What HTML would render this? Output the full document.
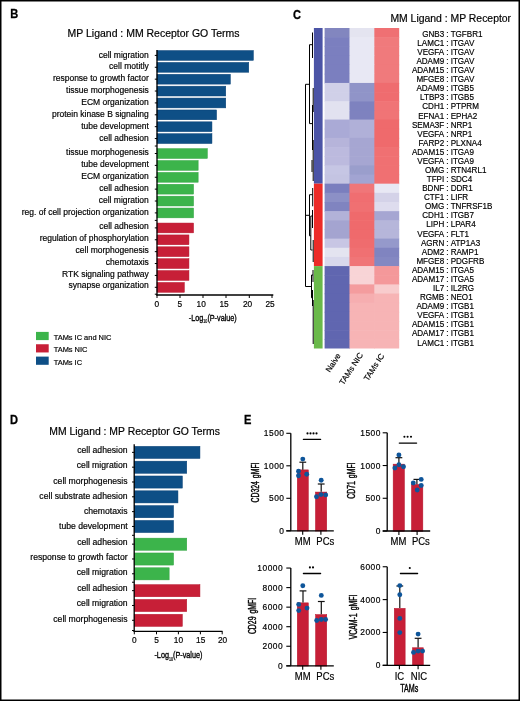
<!DOCTYPE html>
<html><head><meta charset="utf-8"><style>
html,body{margin:0;padding:0;background:#fff;width:520px;height:701px;overflow:hidden}
svg{display:block;will-change:transform}
text{fill:#000;stroke:#000;stroke-width:0.18px}
</style></head><body>
<svg width="520" height="701" viewBox="0 0 520 701" font-family='"Liberation Sans", sans-serif'><rect x="0" y="0" width="520" height="701" fill="#000"/><rect x="1.5" y="1.5" width="517.0" height="698.0" fill="#fff"/><g transform="translate(10.3,18.0) scale(0.88,1)"><text x="0" y="0" font-size="12.6" font-weight="bold" style="stroke-width:0.3px">B</text></g><text x="67.6" y="37.1" font-size="10.48">MP Ligand : MM Receptor GO Terms</text><rect x="157.00" y="50.55" width="96.35" height="9.80" fill="#0e4f86" stroke="#053f74" stroke-width="0.5"/><text x="148.8" y="57.60" font-size="8.5" text-anchor="end">cell migration</text><line x1="154.8" y1="55.40" x2="157" y2="55.40" stroke="#000" stroke-width="1"/><rect x="157.00" y="62.43" width="91.75" height="9.80" fill="#0e4f86" stroke="#053f74" stroke-width="0.5"/><text x="148.8" y="69.48" font-size="8.5" text-anchor="end">cell motitly</text><line x1="154.8" y1="67.28" x2="157" y2="67.28" stroke="#000" stroke-width="1"/><rect x="157.00" y="74.31" width="73.35" height="9.80" fill="#0e4f86" stroke="#053f74" stroke-width="0.5"/><text x="148.8" y="81.36" font-size="8.5" text-anchor="end">response to growth factor</text><line x1="154.8" y1="79.16" x2="157" y2="79.16" stroke="#000" stroke-width="1"/><rect x="157.00" y="86.19" width="68.75" height="9.80" fill="#0e4f86" stroke="#053f74" stroke-width="0.5"/><text x="148.8" y="93.24" font-size="8.5" text-anchor="end">tissue morphogenesis</text><line x1="154.8" y1="91.04" x2="157" y2="91.04" stroke="#000" stroke-width="1"/><rect x="157.00" y="98.07" width="68.75" height="9.80" fill="#0e4f86" stroke="#053f74" stroke-width="0.5"/><text x="148.8" y="105.12" font-size="8.5" text-anchor="end">ECM organization</text><line x1="154.8" y1="102.92" x2="157" y2="102.92" stroke="#000" stroke-width="1"/><rect x="157.00" y="109.95" width="59.55" height="9.80" fill="#0e4f86" stroke="#053f74" stroke-width="0.5"/><text x="148.8" y="117.00" font-size="8.5" text-anchor="end">protein kinase B signaling</text><line x1="154.8" y1="114.80" x2="157" y2="114.80" stroke="#000" stroke-width="1"/><rect x="157.00" y="121.83" width="54.95" height="9.80" fill="#0e4f86" stroke="#053f74" stroke-width="0.5"/><text x="148.8" y="128.88" font-size="8.5" text-anchor="end">tube development</text><line x1="154.8" y1="126.68" x2="157" y2="126.68" stroke="#000" stroke-width="1"/><rect x="157.00" y="133.71" width="54.95" height="9.80" fill="#0e4f86" stroke="#053f74" stroke-width="0.5"/><text x="148.8" y="140.76" font-size="8.5" text-anchor="end">cell adhesion</text><line x1="154.8" y1="138.56" x2="157" y2="138.56" stroke="#000" stroke-width="1"/><rect x="157.00" y="148.65" width="50.35" height="9.80" fill="#3cb44b" stroke="#2fa33f" stroke-width="0.5"/><text x="148.8" y="155.10" font-size="8.5" text-anchor="end">tissue morphogenesis</text><line x1="154.8" y1="153.50" x2="157" y2="153.50" stroke="#000" stroke-width="1"/><rect x="157.00" y="160.53" width="41.15" height="9.80" fill="#3cb44b" stroke="#2fa33f" stroke-width="0.5"/><text x="148.8" y="166.98" font-size="8.5" text-anchor="end">tube development</text><line x1="154.8" y1="165.38" x2="157" y2="165.38" stroke="#000" stroke-width="1"/><rect x="157.00" y="172.41" width="41.15" height="9.80" fill="#3cb44b" stroke="#2fa33f" stroke-width="0.5"/><text x="148.8" y="178.86" font-size="8.5" text-anchor="end">ECM organization</text><line x1="154.8" y1="177.26" x2="157" y2="177.26" stroke="#000" stroke-width="1"/><rect x="157.00" y="184.29" width="36.55" height="9.80" fill="#3cb44b" stroke="#2fa33f" stroke-width="0.5"/><text x="148.8" y="190.74" font-size="8.5" text-anchor="end">cell adhesion</text><line x1="154.8" y1="189.14" x2="157" y2="189.14" stroke="#000" stroke-width="1"/><rect x="157.00" y="196.17" width="36.55" height="9.80" fill="#3cb44b" stroke="#2fa33f" stroke-width="0.5"/><text x="148.8" y="202.62" font-size="8.5" text-anchor="end">cell migration</text><line x1="154.8" y1="201.02" x2="157" y2="201.02" stroke="#000" stroke-width="1"/><rect x="157.00" y="208.05" width="36.55" height="9.80" fill="#3cb44b" stroke="#2fa33f" stroke-width="0.5"/><text x="148.8" y="214.50" font-size="8.5" text-anchor="end">reg. of cell projection organization</text><line x1="154.8" y1="212.90" x2="157" y2="212.90" stroke="#000" stroke-width="1"/><rect x="157.00" y="223.05" width="36.55" height="9.80" fill="#c71f37" stroke="#b5142c" stroke-width="0.5"/><text x="148.8" y="229.00" font-size="8.5" text-anchor="end">cell adhesion</text><line x1="154.8" y1="227.90" x2="157" y2="227.90" stroke="#000" stroke-width="1"/><rect x="157.00" y="234.93" width="31.95" height="9.80" fill="#c71f37" stroke="#b5142c" stroke-width="0.5"/><text x="148.8" y="240.88" font-size="8.5" text-anchor="end">regulation of phosphorylation</text><line x1="154.8" y1="239.78" x2="157" y2="239.78" stroke="#000" stroke-width="1"/><rect x="157.00" y="246.81" width="31.95" height="9.80" fill="#c71f37" stroke="#b5142c" stroke-width="0.5"/><text x="148.8" y="252.76" font-size="8.5" text-anchor="end">cell morphogenesis</text><line x1="154.8" y1="251.66" x2="157" y2="251.66" stroke="#000" stroke-width="1"/><rect x="157.00" y="258.69" width="31.95" height="9.80" fill="#c71f37" stroke="#b5142c" stroke-width="0.5"/><text x="148.8" y="264.64" font-size="8.5" text-anchor="end">chemotaxis</text><line x1="154.8" y1="263.54" x2="157" y2="263.54" stroke="#000" stroke-width="1"/><rect x="157.00" y="270.57" width="31.95" height="9.80" fill="#c71f37" stroke="#b5142c" stroke-width="0.5"/><text x="148.8" y="276.52" font-size="8.5" text-anchor="end">RTK signaling pathway</text><line x1="154.8" y1="275.42" x2="157" y2="275.42" stroke="#000" stroke-width="1"/><rect x="157.00" y="282.45" width="27.35" height="9.80" fill="#c71f37" stroke="#b5142c" stroke-width="0.5"/><text x="148.8" y="288.40" font-size="8.5" text-anchor="end">synapse organization</text><line x1="154.8" y1="287.30" x2="157" y2="287.30" stroke="#000" stroke-width="1"/><line x1="154.8" y1="146.03" x2="157" y2="146.03" stroke="#000" stroke-width="1"/><line x1="154.8" y1="220.40" x2="157" y2="220.40" stroke="#000" stroke-width="1"/><line x1="154.8" y1="294.20" x2="157" y2="294.20" stroke="#000" stroke-width="1"/><line x1="157" y1="50" x2="157" y2="295.6" stroke="#000" stroke-width="1.3"/><line x1="156.4" y1="295" x2="273.3" y2="295" stroke="#000" stroke-width="1.3"/><line x1="157.00" y1="295" x2="157.00" y2="298" stroke="#000" stroke-width="1"/><text x="156.70" y="306.9" font-size="8.3" text-anchor="middle">0</text><line x1="180.00" y1="295" x2="180.00" y2="298" stroke="#000" stroke-width="1"/><text x="179.80" y="306.9" font-size="8.3" text-anchor="middle">5</text><line x1="203.00" y1="295" x2="203.00" y2="298" stroke="#000" stroke-width="1"/><text x="201.20" y="306.9" font-size="8.3" text-anchor="middle">10</text><line x1="226.00" y1="295" x2="226.00" y2="298" stroke="#000" stroke-width="1"/><text x="224.00" y="306.9" font-size="8.3" text-anchor="middle">15</text><line x1="249.30" y1="295" x2="249.30" y2="298" stroke="#000" stroke-width="1"/><text x="247.50" y="306.9" font-size="8.3" text-anchor="middle">20</text><line x1="272.00" y1="295" x2="272.00" y2="298" stroke="#000" stroke-width="1"/><text x="270.00" y="306.9" font-size="8.3" text-anchor="middle">25</text><g transform="translate(212.8,321.0) scale(0.755,1)"><text x="0" y="0" font-size="9.6" text-anchor="middle" style="stroke-width:0.35px">-Log<tspan font-size="4.8" dy="2.4" style="stroke-width:0.2px">10</tspan><tspan dy="-2.4">(P-value)</tspan></text></g><rect x="36.0" y="331.90" width="12.7" height="8.2" fill="#3cb44b"/><text x="53.7" y="339.80" font-size="7.45">TAMs IC and NIC</text><rect x="36.0" y="344.25" width="12.7" height="8.2" fill="#c71f37"/><text x="53.7" y="352.15" font-size="7.45">TAMs NIC</text><rect x="36.0" y="356.60" width="12.7" height="8.2" fill="#0e4f86"/><text x="53.7" y="364.50" font-size="7.45">TAMs IC</text><g transform="translate(10.0,423.8) scale(0.88,1)"><text x="0" y="0" font-size="12.6" font-weight="bold" style="stroke-width:0.3px">D</text></g><text x="49.3" y="434.6" font-size="10.4">MM Ligand : MP Receptor GO Terms</text><rect x="134.20" y="446.35" width="65.75" height="12.10" fill="#0e4f86" stroke="#053f74" stroke-width="0.5"/><text x="127.6" y="453.05" font-size="8.65" text-anchor="end">cell adhesion</text><line x1="132.0" y1="452.35" x2="134.2" y2="452.35" stroke="#000" stroke-width="1"/><rect x="134.20" y="461.17" width="52.55" height="12.10" fill="#0e4f86" stroke="#053f74" stroke-width="0.5"/><text x="127.6" y="468.33" font-size="8.65" text-anchor="end">cell migration</text><line x1="132.0" y1="467.17" x2="134.2" y2="467.17" stroke="#000" stroke-width="1"/><rect x="134.20" y="475.99" width="48.15" height="12.10" fill="#0e4f86" stroke="#053f74" stroke-width="0.5"/><text x="127.6" y="483.61" font-size="8.65" text-anchor="end">cell morphogenesis</text><line x1="132.0" y1="481.99" x2="134.2" y2="481.99" stroke="#000" stroke-width="1"/><rect x="134.20" y="490.81" width="43.75" height="12.10" fill="#0e4f86" stroke="#053f74" stroke-width="0.5"/><text x="127.6" y="498.89" font-size="8.65" text-anchor="end">cell substrate adhesion</text><line x1="132.0" y1="496.81" x2="134.2" y2="496.81" stroke="#000" stroke-width="1"/><rect x="134.20" y="505.63" width="39.35" height="12.10" fill="#0e4f86" stroke="#053f74" stroke-width="0.5"/><text x="127.6" y="514.17" font-size="8.65" text-anchor="end">chemotaxis</text><line x1="132.0" y1="511.63" x2="134.2" y2="511.63" stroke="#000" stroke-width="1"/><rect x="134.20" y="520.45" width="39.35" height="12.10" fill="#0e4f86" stroke="#053f74" stroke-width="0.5"/><text x="127.6" y="529.45" font-size="8.65" text-anchor="end">tube development</text><line x1="132.0" y1="526.45" x2="134.2" y2="526.45" stroke="#000" stroke-width="1"/><rect x="134.20" y="538.15" width="52.55" height="12.10" fill="#3cb44b" stroke="#2fa33f" stroke-width="0.5"/><text x="127.6" y="545.00" font-size="8.65" text-anchor="end">cell adhesion</text><line x1="132.0" y1="544.15" x2="134.2" y2="544.15" stroke="#000" stroke-width="1"/><rect x="134.20" y="552.97" width="39.35" height="12.10" fill="#3cb44b" stroke="#2fa33f" stroke-width="0.5"/><text x="127.6" y="560.24" font-size="8.65" text-anchor="end">response to growth factor</text><line x1="132.0" y1="558.97" x2="134.2" y2="558.97" stroke="#000" stroke-width="1"/><rect x="134.20" y="567.79" width="34.95" height="12.10" fill="#3cb44b" stroke="#2fa33f" stroke-width="0.5"/><text x="127.6" y="575.48" font-size="8.65" text-anchor="end">cell migration</text><line x1="132.0" y1="573.79" x2="134.2" y2="573.79" stroke="#000" stroke-width="1"/><rect x="134.20" y="584.65" width="65.75" height="12.10" fill="#c71f37" stroke="#b5142c" stroke-width="0.5"/><text x="127.6" y="591.20" font-size="8.65" text-anchor="end">cell adhesion</text><line x1="132.0" y1="590.65" x2="134.2" y2="590.65" stroke="#000" stroke-width="1"/><rect x="134.20" y="599.47" width="52.55" height="12.10" fill="#c71f37" stroke="#b5142c" stroke-width="0.5"/><text x="127.6" y="606.39" font-size="8.65" text-anchor="end">cell migration</text><line x1="132.0" y1="605.47" x2="134.2" y2="605.47" stroke="#000" stroke-width="1"/><rect x="134.20" y="614.29" width="48.15" height="12.10" fill="#c71f37" stroke="#b5142c" stroke-width="0.5"/><text x="127.6" y="621.58" font-size="8.65" text-anchor="end">cell morphogenesis</text><line x1="132.0" y1="620.29" x2="134.2" y2="620.29" stroke="#000" stroke-width="1"/><line x1="132.0" y1="535.30" x2="134.2" y2="535.30" stroke="#000" stroke-width="1"/><line x1="132.0" y1="582.22" x2="134.2" y2="582.22" stroke="#000" stroke-width="1"/><line x1="132.0" y1="630.50" x2="134.2" y2="630.50" stroke="#000" stroke-width="1"/><line x1="134.2" y1="444.3" x2="134.2" y2="631.9" stroke="#000" stroke-width="1.3"/><line x1="133.6" y1="631.3" x2="222.5" y2="631.3" stroke="#000" stroke-width="1.3"/><line x1="134.30" y1="631.3" x2="134.30" y2="634.3" stroke="#000" stroke-width="1"/><text x="134.30" y="643.0" font-size="8.3" text-anchor="middle">0</text><line x1="156.50" y1="631.3" x2="156.50" y2="634.3" stroke="#000" stroke-width="1"/><text x="156.50" y="643.0" font-size="8.3" text-anchor="middle">5</text><line x1="178.40" y1="631.3" x2="178.40" y2="634.3" stroke="#000" stroke-width="1"/><text x="178.40" y="643.0" font-size="8.3" text-anchor="middle">10</text><line x1="200.40" y1="631.3" x2="200.40" y2="634.3" stroke="#000" stroke-width="1"/><text x="200.70" y="643.0" font-size="8.3" text-anchor="middle">15</text><line x1="222.20" y1="631.3" x2="222.20" y2="634.3" stroke="#000" stroke-width="1"/><text x="222.60" y="643.0" font-size="8.3" text-anchor="middle">20</text><g transform="translate(178.4,658.3) scale(0.755,1)"><text x="0" y="0" font-size="9.6" text-anchor="middle" style="stroke-width:0.35px">-Log<tspan font-size="4.8" dy="2.4" style="stroke-width:0.2px">10</tspan><tspan dy="-2.4">(P-value)</tspan></text></g><g transform="translate(292.9,18.5) scale(0.88,1)"><text x="0" y="0" font-size="12.6" font-weight="bold" style="stroke-width:0.3px">C</text></g><text x="390.4" y="22.2" font-size="10.42">MM Ligand : MP Receptor</text><rect x="324.60" y="28.00" width="25.47" height="9.76" fill="#8286bf"/><rect x="349.47" y="28.00" width="25.47" height="9.76" fill="#e4e4f0"/><rect x="374.33" y="28.00" width="24.87" height="9.76" fill="#ef7073"/><rect x="324.60" y="37.16" width="25.47" height="9.76" fill="#7b7fbf"/><rect x="349.47" y="37.16" width="25.47" height="9.76" fill="#e8e8f4"/><rect x="374.33" y="37.16" width="24.87" height="9.76" fill="#f07a7c"/><rect x="324.60" y="46.31" width="25.47" height="9.76" fill="#7b7fbf"/><rect x="349.47" y="46.31" width="25.47" height="9.76" fill="#e8e8f4"/><rect x="374.33" y="46.31" width="24.87" height="9.76" fill="#f07a7c"/><rect x="324.60" y="55.47" width="25.47" height="9.76" fill="#7b7fbf"/><rect x="349.47" y="55.47" width="25.47" height="9.76" fill="#e8e8f4"/><rect x="374.33" y="55.47" width="24.87" height="9.76" fill="#f07a7c"/><rect x="324.60" y="64.63" width="25.47" height="9.76" fill="#7b7fbf"/><rect x="349.47" y="64.63" width="25.47" height="9.76" fill="#e8e8f4"/><rect x="374.33" y="64.63" width="24.87" height="9.76" fill="#f07a7c"/><rect x="324.60" y="73.79" width="25.47" height="9.76" fill="#7b7fbf"/><rect x="349.47" y="73.79" width="25.47" height="9.76" fill="#e8e8f4"/><rect x="374.33" y="73.79" width="24.87" height="9.76" fill="#f07a7c"/><rect x="324.60" y="82.94" width="25.47" height="9.76" fill="#d0d0e8"/><rect x="349.47" y="82.94" width="25.47" height="9.76" fill="#9094c8"/><rect x="374.33" y="82.94" width="24.87" height="9.76" fill="#ef6c6f"/><rect x="324.60" y="92.10" width="25.47" height="9.76" fill="#d0d0e8"/><rect x="349.47" y="92.10" width="25.47" height="9.76" fill="#9094c8"/><rect x="374.33" y="92.10" width="24.87" height="9.76" fill="#ef6c6f"/><rect x="324.60" y="101.26" width="25.47" height="9.76" fill="#e2e2f0"/><rect x="349.47" y="101.26" width="25.47" height="9.76" fill="#7e82bf"/><rect x="374.33" y="101.26" width="24.87" height="9.76" fill="#f07476"/><rect x="324.60" y="110.41" width="25.47" height="9.76" fill="#e2e2f0"/><rect x="349.47" y="110.41" width="25.47" height="9.76" fill="#7e82bf"/><rect x="374.33" y="110.41" width="24.87" height="9.76" fill="#f07476"/><rect x="324.60" y="119.57" width="25.47" height="9.76" fill="#aaaad6"/><rect x="349.47" y="119.57" width="25.47" height="9.76" fill="#b0b0d8"/><rect x="374.33" y="119.57" width="24.87" height="9.76" fill="#ef6a6c"/><rect x="324.60" y="128.73" width="25.47" height="9.76" fill="#aaaad6"/><rect x="349.47" y="128.73" width="25.47" height="9.76" fill="#b0b0d8"/><rect x="374.33" y="128.73" width="24.87" height="9.76" fill="#ef6a6c"/><rect x="324.60" y="137.89" width="25.47" height="9.76" fill="#b6b4da"/><rect x="349.47" y="137.89" width="25.47" height="9.76" fill="#a6a6d2"/><rect x="374.33" y="137.89" width="24.87" height="9.76" fill="#ef6a6c"/><rect x="324.60" y="147.04" width="25.47" height="9.76" fill="#bcbade"/><rect x="349.47" y="147.04" width="25.47" height="9.76" fill="#a6a6d2"/><rect x="374.33" y="147.04" width="24.87" height="9.76" fill="#f07072"/><rect x="324.60" y="156.20" width="25.47" height="9.76" fill="#bcbade"/><rect x="349.47" y="156.20" width="25.47" height="9.76" fill="#a6a6d2"/><rect x="374.33" y="156.20" width="24.87" height="9.76" fill="#f07072"/><rect x="324.60" y="165.36" width="25.47" height="9.76" fill="#c6c6e4"/><rect x="349.47" y="165.36" width="25.47" height="9.76" fill="#9a9ecc"/><rect x="374.33" y="165.36" width="24.87" height="9.76" fill="#f07072"/><rect x="324.60" y="174.51" width="25.47" height="9.76" fill="#c4c4e2"/><rect x="349.47" y="174.51" width="25.47" height="9.76" fill="#a2a4d2"/><rect x="374.33" y="174.51" width="24.87" height="9.76" fill="#f07072"/><rect x="324.60" y="183.67" width="25.47" height="9.76" fill="#7a7ebe"/><rect x="349.47" y="183.67" width="25.47" height="9.76" fill="#f07679"/><rect x="374.33" y="183.67" width="24.87" height="9.76" fill="#e8e8f4"/><rect x="324.60" y="192.83" width="25.47" height="9.76" fill="#8c90c6"/><rect x="349.47" y="192.83" width="25.47" height="9.76" fill="#f06e71"/><rect x="374.33" y="192.83" width="24.87" height="9.76" fill="#d4d2e8"/><rect x="324.60" y="201.99" width="25.47" height="9.76" fill="#8084c0"/><rect x="349.47" y="201.99" width="25.47" height="9.76" fill="#f07072"/><rect x="374.33" y="201.99" width="24.87" height="9.76" fill="#dedcee"/><rect x="324.60" y="211.14" width="25.47" height="9.76" fill="#b2b2d8"/><rect x="349.47" y="211.14" width="25.47" height="9.76" fill="#ef6a6c"/><rect x="374.33" y="211.14" width="24.87" height="9.76" fill="#a6a6d2"/><rect x="324.60" y="220.30" width="25.47" height="9.76" fill="#a4a4d0"/><rect x="349.47" y="220.30" width="25.47" height="9.76" fill="#ef6a6c"/><rect x="374.33" y="220.30" width="24.87" height="9.76" fill="#b6b6da"/><rect x="324.60" y="229.46" width="25.47" height="9.76" fill="#a4a4d0"/><rect x="349.47" y="229.46" width="25.47" height="9.76" fill="#ef6a6c"/><rect x="374.33" y="229.46" width="24.87" height="9.76" fill="#b6b6da"/><rect x="324.60" y="238.61" width="25.47" height="9.76" fill="#c8c6e4"/><rect x="349.47" y="238.61" width="25.47" height="9.76" fill="#ef6c6e"/><rect x="374.33" y="238.61" width="24.87" height="9.76" fill="#9599cb"/><rect x="324.60" y="247.77" width="25.47" height="9.76" fill="#e4e4f0"/><rect x="349.47" y="247.77" width="25.47" height="9.76" fill="#f07072"/><rect x="374.33" y="247.77" width="24.87" height="9.76" fill="#8084c0"/><rect x="324.60" y="256.93" width="25.47" height="9.76" fill="#d8d8ec"/><rect x="349.47" y="256.93" width="25.47" height="9.76" fill="#f07577"/><rect x="374.33" y="256.93" width="24.87" height="9.76" fill="#8488c2"/><rect x="324.60" y="266.09" width="25.47" height="9.76" fill="#6066b0"/><rect x="349.47" y="266.09" width="25.47" height="9.76" fill="#f8d4d6"/><rect x="374.33" y="266.09" width="24.87" height="9.76" fill="#f4989a"/><rect x="324.60" y="275.24" width="25.47" height="9.76" fill="#6066b0"/><rect x="349.47" y="275.24" width="25.47" height="9.76" fill="#f8d4d6"/><rect x="374.33" y="275.24" width="24.87" height="9.76" fill="#f4989a"/><rect x="324.60" y="284.40" width="25.47" height="9.76" fill="#6066b0"/><rect x="349.47" y="284.40" width="25.47" height="9.76" fill="#f49c9e"/><rect x="374.33" y="284.40" width="24.87" height="9.76" fill="#f8cccd"/><rect x="324.60" y="293.56" width="25.47" height="9.76" fill="#6066b0"/><rect x="349.47" y="293.56" width="25.47" height="9.76" fill="#f6aeb0"/><rect x="374.33" y="293.56" width="24.87" height="9.76" fill="#f7b4b5"/><rect x="324.60" y="302.71" width="25.47" height="9.76" fill="#6066b0"/><rect x="349.47" y="302.71" width="25.47" height="9.76" fill="#f7b4b5"/><rect x="374.33" y="302.71" width="24.87" height="9.76" fill="#f7b4b5"/><rect x="324.60" y="311.87" width="25.47" height="9.76" fill="#6066b0"/><rect x="349.47" y="311.87" width="25.47" height="9.76" fill="#f7b4b5"/><rect x="374.33" y="311.87" width="24.87" height="9.76" fill="#f7b4b5"/><rect x="324.60" y="321.03" width="25.47" height="9.76" fill="#6066b0"/><rect x="349.47" y="321.03" width="25.47" height="9.76" fill="#f7b4b5"/><rect x="374.33" y="321.03" width="24.87" height="9.76" fill="#f7b4b5"/><rect x="324.60" y="330.19" width="25.47" height="9.76" fill="#6066b0"/><rect x="349.47" y="330.19" width="25.47" height="9.76" fill="#f7b4b5"/><rect x="374.33" y="330.19" width="24.87" height="9.76" fill="#f7b4b5"/><rect x="324.60" y="339.34" width="25.47" height="9.16" fill="#6066b0"/><rect x="349.47" y="339.34" width="25.47" height="9.16" fill="#f7b4b5"/><rect x="374.33" y="339.34" width="24.87" height="9.16" fill="#f7b4b5"/><g transform="translate(447.4,0) scale(0.93,1) translate(-447.4,0)" font-size="8.7"><text x="444.0" y="36.80" text-anchor="end">GNB3</text><text x="447.4" y="36.80" text-anchor="middle">:</text><text x="450.9" y="36.80">TGFBR1</text><text x="444.0" y="45.88" text-anchor="end">LAMC1</text><text x="447.4" y="45.88" text-anchor="middle">:</text><text x="450.9" y="45.88">ITGAV</text><text x="444.0" y="54.96" text-anchor="end">VEGFA</text><text x="447.4" y="54.96" text-anchor="middle">:</text><text x="450.9" y="54.96">ITGAV</text><text x="444.0" y="64.04" text-anchor="end">ADAM9</text><text x="447.4" y="64.04" text-anchor="middle">:</text><text x="450.9" y="64.04">ITGAV</text><text x="444.0" y="73.12" text-anchor="end">ADAM15</text><text x="447.4" y="73.12" text-anchor="middle">:</text><text x="450.9" y="73.12">ITGAV</text><text x="444.0" y="82.20" text-anchor="end">MFGE8</text><text x="447.4" y="82.20" text-anchor="middle">:</text><text x="450.9" y="82.20">ITGAV</text><text x="444.0" y="91.28" text-anchor="end">ADAM9</text><text x="447.4" y="91.28" text-anchor="middle">:</text><text x="450.9" y="91.28">ITGB5</text><text x="444.0" y="100.36" text-anchor="end">LTBP3</text><text x="447.4" y="100.36" text-anchor="middle">:</text><text x="450.9" y="100.36">ITGB5</text><text x="444.0" y="109.44" text-anchor="end">CDH1</text><text x="447.4" y="109.44" text-anchor="middle">:</text><text x="450.9" y="109.44">PTPRM</text><text x="444.0" y="118.52" text-anchor="end">EFNA1</text><text x="447.4" y="118.52" text-anchor="middle">:</text><text x="450.9" y="118.52">EPHA2</text><text x="444.0" y="127.60" text-anchor="end">SEMA3F</text><text x="447.4" y="127.60" text-anchor="middle">:</text><text x="450.9" y="127.60">NRP1</text><text x="444.0" y="136.68" text-anchor="end">VEGFA</text><text x="447.4" y="136.68" text-anchor="middle">:</text><text x="450.9" y="136.68">NRP1</text><text x="444.0" y="145.76" text-anchor="end">FARP2</text><text x="447.4" y="145.76" text-anchor="middle">:</text><text x="450.9" y="145.76">PLXNA4</text><text x="444.0" y="154.84" text-anchor="end">ADAM15</text><text x="447.4" y="154.84" text-anchor="middle">:</text><text x="450.9" y="154.84">ITGA9</text><text x="444.0" y="163.92" text-anchor="end">VEGFA</text><text x="447.4" y="163.92" text-anchor="middle">:</text><text x="450.9" y="163.92">ITGA9</text><text x="444.0" y="173.00" text-anchor="end">OMG</text><text x="447.4" y="173.00" text-anchor="middle">:</text><text x="450.9" y="173.00">RTN4RL1</text><text x="444.0" y="182.08" text-anchor="end">TFPI</text><text x="447.4" y="182.08" text-anchor="middle">:</text><text x="450.9" y="182.08">SDC4</text><text x="444.0" y="191.16" text-anchor="end">BDNF</text><text x="447.4" y="191.16" text-anchor="middle">:</text><text x="450.9" y="191.16">DDR1</text><text x="444.0" y="200.24" text-anchor="end">CTF1</text><text x="447.4" y="200.24" text-anchor="middle">:</text><text x="450.9" y="200.24">LIFR</text><text x="444.0" y="209.32" text-anchor="end">OMG</text><text x="447.4" y="209.32" text-anchor="middle">:</text><text x="450.9" y="209.32">TNFRSF1B</text><text x="444.0" y="218.40" text-anchor="end">CDH1</text><text x="447.4" y="218.40" text-anchor="middle">:</text><text x="450.9" y="218.40">ITGB7</text><text x="444.0" y="227.48" text-anchor="end">LIPH</text><text x="447.4" y="227.48" text-anchor="middle">:</text><text x="450.9" y="227.48">LPAR4</text><text x="444.0" y="236.56" text-anchor="end">VEGFA</text><text x="447.4" y="236.56" text-anchor="middle">:</text><text x="450.9" y="236.56">FLT1</text><text x="444.0" y="245.64" text-anchor="end">AGRN</text><text x="447.4" y="245.64" text-anchor="middle">:</text><text x="450.9" y="245.64">ATP1A3</text><text x="444.0" y="254.72" text-anchor="end">ADM2</text><text x="447.4" y="254.72" text-anchor="middle">:</text><text x="450.9" y="254.72">RAMP1</text><text x="444.0" y="263.80" text-anchor="end">MFGE8</text><text x="447.4" y="263.80" text-anchor="middle">:</text><text x="450.9" y="263.80">PDGFRB</text><text x="444.0" y="272.88" text-anchor="end">ADAM15</text><text x="447.4" y="272.88" text-anchor="middle">:</text><text x="450.9" y="272.88">ITGA5</text><text x="444.0" y="281.96" text-anchor="end">ADAM17</text><text x="447.4" y="281.96" text-anchor="middle">:</text><text x="450.9" y="281.96">ITGA5</text><text x="444.0" y="291.04" text-anchor="end">IL7</text><text x="447.4" y="291.04" text-anchor="middle">:</text><text x="450.9" y="291.04">IL2RG</text><text x="444.0" y="300.12" text-anchor="end">RGMB</text><text x="447.4" y="300.12" text-anchor="middle">:</text><text x="450.9" y="300.12">NEO1</text><text x="444.0" y="309.20" text-anchor="end">ADAM9</text><text x="447.4" y="309.20" text-anchor="middle">:</text><text x="450.9" y="309.20">ITGB1</text><text x="444.0" y="318.28" text-anchor="end">VEGFA</text><text x="447.4" y="318.28" text-anchor="middle">:</text><text x="450.9" y="318.28">ITGB1</text><text x="444.0" y="327.36" text-anchor="end">ADAM15</text><text x="447.4" y="327.36" text-anchor="middle">:</text><text x="450.9" y="327.36">ITGB1</text><text x="444.0" y="336.44" text-anchor="end">ADAM17</text><text x="447.4" y="336.44" text-anchor="middle">:</text><text x="450.9" y="336.44">ITGB1</text><text x="444.0" y="345.52" text-anchor="end">LAMC1</text><text x="447.4" y="345.52" text-anchor="middle">:</text><text x="450.9" y="345.52">ITGB1</text></g><rect x="313.9" y="28.0" width="8.7" height="155.67" fill="#4b54a6"/><rect x="313.9" y="183.67" width="8.7" height="82.41" fill="#ec2b28"/><rect x="313.9" y="266.09" width="8.7" height="82.41" fill="#6ab94a"/><path d="M305.5 84.3 V286.5 M305.5 84.3 H309.5 M305.5 215.3 H309.5 M305.5 286.5 H311.5 M309.5 44.7 V123.6 M309.5 44.7 H312.5 M309.5 123.6 H312.5 M312.5 32.5 V58 M313.2 88 V112 M312.5 105 V150 M313.2 140 V181 M312 160 V172 M309.5 194.7 V235.8 M309.5 194.7 H312.7 M312.7 188 V206.3 M309.5 235.8 H310.8 M310.8 216 V250 M310.8 216 H312.5 M310.8 250 H312.5 M312.5 210 V228 M313.2 240 V262 M311.5 275 V297.8 M311.5 275 H313 M311.5 297.8 H313 M313 270 V282 M312.5 290 V306 M313.2 300 V344" stroke="#000" stroke-width="1" fill="none"/><text transform="translate(341.0,355.6) rotate(-57)" x="0" y="0" font-size="8" text-anchor="end">Naive</text><text transform="translate(363.3,355.0) rotate(-57)" x="0" y="0" font-size="8" text-anchor="end">TAMs NIC</text><text transform="translate(384.6,355.9) rotate(-57)" x="0" y="0" font-size="8" text-anchor="end">TAMs IC</text><g transform="translate(243.9,423.8) scale(0.88,1)"><text x="0" y="0" font-size="12.6" font-weight="bold" style="stroke-width:0.3px">E</text></g><rect x="297.25" y="469.88" width="11.10" height="61.16" fill="#c71f37" stroke="#b5142c" stroke-width="0.5"/><rect x="315.45" y="492.05" width="11.30" height="39.00" fill="#c71f37" stroke="#b5142c" stroke-width="0.5"/><line x1="302.8" y1="462.20" x2="302.8" y2="469.63" stroke="#111" stroke-width="1.2"/><line x1="299.40000000000003" y1="462.20" x2="306.2" y2="462.20" stroke="#111" stroke-width="1.2"/><line x1="321.2" y1="484.00" x2="321.2" y2="491.80" stroke="#111" stroke-width="1.2"/><line x1="317.8" y1="484.00" x2="324.59999999999997" y2="484.00" stroke="#111" stroke-width="1.2"/><circle cx="302.8" cy="459.1" r="2.45" fill="#0e559a"/><circle cx="298.5" cy="471.2" r="2.45" fill="#0e559a"/><circle cx="298.5" cy="475.8" r="2.45" fill="#0e559a"/><circle cx="306.7" cy="474.2" r="2.45" fill="#0e559a"/><circle cx="321.2" cy="480.3" r="2.45" fill="#0e559a"/><circle cx="316.5" cy="496.7" r="2.45" fill="#0e559a"/><circle cx="321" cy="494.6" r="2.45" fill="#0e559a"/><circle cx="325.7" cy="494.9" r="2.45" fill="#0e559a"/><line x1="290.8" y1="433.30" x2="290.8" y2="530.8" stroke="#000" stroke-width="1.3"/><line x1="286.3" y1="530.8" x2="333.8" y2="530.8" stroke="#000" stroke-width="1.3"/><line x1="286.3" y1="530.80" x2="290.8" y2="530.80" stroke="#000" stroke-width="1.1"/><text x="284.5" y="533.80" font-size="8.4" text-anchor="end" letter-spacing="0.5">0</text><line x1="286.3" y1="498.30" x2="290.8" y2="498.30" stroke="#000" stroke-width="1.1"/><text x="284.5" y="501.30" font-size="8.4" text-anchor="end" letter-spacing="0.5">500</text><line x1="286.3" y1="465.80" x2="290.8" y2="465.80" stroke="#000" stroke-width="1.1"/><text x="284.5" y="468.80" font-size="8.4" text-anchor="end" letter-spacing="0.5">1000</text><line x1="286.3" y1="433.30" x2="290.8" y2="433.30" stroke="#000" stroke-width="1.1"/><text x="284.5" y="436.30" font-size="8.4" text-anchor="end" letter-spacing="0.5">1500</text><line x1="302.7" y1="530.8" x2="302.7" y2="534.8" stroke="#000" stroke-width="1.1"/><g transform="translate(302.7,545.00) scale(0.94,1)"><text x="0" y="0" font-size="10.1" text-anchor="middle">MM</text></g><line x1="320.9" y1="530.8" x2="320.9" y2="534.8" stroke="#000" stroke-width="1.1"/><g transform="translate(325.3,545.00) scale(0.94,1)"><text x="0" y="0" font-size="10.1" text-anchor="middle">PCs</text></g><line x1="303.4" y1="439.4" x2="320.6" y2="439.4" stroke="#000" stroke-width="1.3" stroke-linecap="round"/><circle cx="307.5" cy="433.4" r="1.05" fill="#000"/><circle cx="310.5" cy="433.4" r="1.05" fill="#000"/><circle cx="313.5" cy="433.4" r="1.05" fill="#000"/><circle cx="316.5" cy="433.4" r="1.05" fill="#000"/><g transform="translate(256.0,482.5) rotate(-90) scale(0.675,1)"><text x="0" y="3.4" font-size="10.2" text-anchor="middle" word-spacing="1.6" style="stroke-width:0.4px">CD324 gMFI</text></g><rect x="393.15" y="464.15" width="11.30" height="67.10" fill="#c71f37" stroke="#b5142c" stroke-width="0.5"/><rect x="411.45" y="484.45" width="11.40" height="46.80" fill="#c71f37" stroke="#b5142c" stroke-width="0.5"/><line x1="398.9" y1="457.70" x2="398.9" y2="463.90" stroke="#111" stroke-width="1.2"/><line x1="395.5" y1="457.70" x2="402.29999999999995" y2="457.70" stroke="#111" stroke-width="1.2"/><line x1="416.9" y1="479.40" x2="416.9" y2="484.20" stroke="#111" stroke-width="1.2"/><line x1="413.5" y1="479.40" x2="420.29999999999995" y2="479.40" stroke="#111" stroke-width="1.2"/><circle cx="398.9" cy="454.9" r="2.45" fill="#0e559a"/><circle cx="394.9" cy="468" r="2.45" fill="#0e559a"/><circle cx="398.9" cy="464.7" r="2.45" fill="#0e559a"/><circle cx="403.5" cy="466.7" r="2.45" fill="#0e559a"/><circle cx="413.3" cy="483" r="2.45" fill="#0e559a"/><circle cx="417.2" cy="490" r="2.45" fill="#0e559a"/><circle cx="421.2" cy="479.4" r="2.45" fill="#0e559a"/><circle cx="421.2" cy="485.5" r="2.45" fill="#0e559a"/><line x1="387.2" y1="432.80" x2="387.2" y2="531.0" stroke="#000" stroke-width="1.3"/><line x1="382.7" y1="531.0" x2="430.2" y2="531.0" stroke="#000" stroke-width="1.3"/><line x1="382.7" y1="531.00" x2="387.2" y2="531.00" stroke="#000" stroke-width="1.1"/><text x="380.9" y="534.00" font-size="8.4" text-anchor="end" letter-spacing="0.5">0</text><line x1="382.7" y1="498.27" x2="387.2" y2="498.27" stroke="#000" stroke-width="1.1"/><text x="380.9" y="501.27" font-size="8.4" text-anchor="end" letter-spacing="0.5">500</text><line x1="382.7" y1="465.53" x2="387.2" y2="465.53" stroke="#000" stroke-width="1.1"/><text x="380.9" y="468.53" font-size="8.4" text-anchor="end" letter-spacing="0.5">1000</text><line x1="382.7" y1="432.80" x2="387.2" y2="432.80" stroke="#000" stroke-width="1.1"/><text x="380.9" y="435.80" font-size="8.4" text-anchor="end" letter-spacing="0.5">1500</text><line x1="398.9" y1="531.0" x2="398.9" y2="535.0" stroke="#000" stroke-width="1.1"/><g transform="translate(398.4,545.20) scale(0.94,1)"><text x="0" y="0" font-size="10.1" text-anchor="middle">MM</text></g><line x1="417.1" y1="531.0" x2="417.1" y2="535.0" stroke="#000" stroke-width="1.1"/><g transform="translate(420.9,545.20) scale(0.94,1)"><text x="0" y="0" font-size="10.1" text-anchor="middle">PCs</text></g><line x1="399.3" y1="443.1" x2="416.6" y2="443.1" stroke="#000" stroke-width="1.3" stroke-linecap="round"/><circle cx="404.4" cy="436.7" r="1.05" fill="#000"/><circle cx="407.6" cy="436.7" r="1.05" fill="#000"/><circle cx="411" cy="436.7" r="1.05" fill="#000"/><g transform="translate(351.5,480.6) rotate(-90) scale(0.675,1)"><text x="0" y="3.4" font-size="10.2" text-anchor="middle" word-spacing="1.6" style="stroke-width:0.4px">CD71 gMFI</text></g><rect x="297.25" y="602.85" width="11.10" height="63.20" fill="#c71f37" stroke="#b5142c" stroke-width="0.5"/><rect x="315.55" y="614.55" width="11.20" height="51.50" fill="#c71f37" stroke="#b5142c" stroke-width="0.5"/><line x1="303" y1="590.90" x2="303" y2="602.60" stroke="#111" stroke-width="1.2"/><line x1="299.6" y1="590.90" x2="306.4" y2="590.90" stroke="#111" stroke-width="1.2"/><line x1="321.3" y1="601.50" x2="321.3" y2="614.30" stroke="#111" stroke-width="1.2"/><line x1="317.90000000000003" y1="601.50" x2="324.7" y2="601.50" stroke="#111" stroke-width="1.2"/><circle cx="302.8" cy="585.7" r="2.45" fill="#0e559a"/><circle cx="298.7" cy="604.4" r="2.45" fill="#0e559a"/><circle cx="298.7" cy="610.6" r="2.45" fill="#0e559a"/><circle cx="307" cy="608.1" r="2.45" fill="#0e559a"/><circle cx="321.3" cy="595.4" r="2.45" fill="#0e559a"/><circle cx="316.7" cy="620.5" r="2.45" fill="#0e559a"/><circle cx="321.3" cy="619.5" r="2.45" fill="#0e559a"/><circle cx="325.6" cy="619.5" r="2.45" fill="#0e559a"/><line x1="290.8" y1="568.05" x2="290.8" y2="665.8" stroke="#000" stroke-width="1.3"/><line x1="286.3" y1="665.8" x2="333.8" y2="665.8" stroke="#000" stroke-width="1.3"/><line x1="286.3" y1="665.80" x2="290.8" y2="665.80" stroke="#000" stroke-width="1.1"/><text x="283.2" y="668.80" font-size="8.4" text-anchor="end" letter-spacing="0.5">0</text><line x1="286.3" y1="646.25" x2="290.8" y2="646.25" stroke="#000" stroke-width="1.1"/><text x="283.2" y="649.25" font-size="8.4" text-anchor="end" letter-spacing="0.5">2000</text><line x1="286.3" y1="626.70" x2="290.8" y2="626.70" stroke="#000" stroke-width="1.1"/><text x="283.2" y="629.70" font-size="8.4" text-anchor="end" letter-spacing="0.5">4000</text><line x1="286.3" y1="607.15" x2="290.8" y2="607.15" stroke="#000" stroke-width="1.1"/><text x="283.2" y="610.15" font-size="8.4" text-anchor="end" letter-spacing="0.5">6000</text><line x1="286.3" y1="587.60" x2="290.8" y2="587.60" stroke="#000" stroke-width="1.1"/><text x="283.2" y="590.60" font-size="8.4" text-anchor="end" letter-spacing="0.5">8000</text><line x1="286.3" y1="568.05" x2="290.8" y2="568.05" stroke="#000" stroke-width="1.1"/><text x="283.2" y="571.05" font-size="8.4" text-anchor="end" letter-spacing="0.5">10000</text><line x1="302.7" y1="665.8" x2="302.7" y2="669.8" stroke="#000" stroke-width="1.1"/><g transform="translate(302.7,680.00) scale(0.94,1)"><text x="0" y="0" font-size="10.1" text-anchor="middle">MM</text></g><line x1="320.9" y1="665.8" x2="320.9" y2="669.8" stroke="#000" stroke-width="1.1"/><g transform="translate(325.3,680.00) scale(0.94,1)"><text x="0" y="0" font-size="10.1" text-anchor="middle">PCs</text></g><line x1="303.4" y1="573.5" x2="320.6" y2="573.5" stroke="#000" stroke-width="1.3" stroke-linecap="round"/><circle cx="309.9" cy="567.4" r="1.05" fill="#000"/><circle cx="313" cy="567.4" r="1.05" fill="#000"/><g transform="translate(252.1,616) rotate(-90) scale(0.675,1)"><text x="0" y="3.4" font-size="10.2" text-anchor="middle" word-spacing="1.6" style="stroke-width:0.4px">CD29 gMFI</text></g><rect x="394.25" y="608.35" width="10.90" height="57.20" fill="#c71f37" stroke="#b5142c" stroke-width="0.5"/><rect x="412.45" y="647.75" width="10.90" height="17.80" fill="#c71f37" stroke="#b5142c" stroke-width="0.5"/><line x1="399.8" y1="586.00" x2="399.8" y2="608.10" stroke="#111" stroke-width="1.2"/><line x1="396.40000000000003" y1="586.00" x2="403.2" y2="586.00" stroke="#111" stroke-width="1.2"/><line x1="418.1" y1="638.30" x2="418.1" y2="647.50" stroke="#111" stroke-width="1.2"/><line x1="414.70000000000005" y1="638.30" x2="421.5" y2="638.30" stroke="#111" stroke-width="1.2"/><circle cx="399.8" cy="585.6" r="2.45" fill="#0e559a"/><circle cx="399.8" cy="594.7" r="2.45" fill="#0e559a"/><circle cx="399.8" cy="618.4" r="2.45" fill="#0e559a"/><circle cx="399.8" cy="632.6" r="2.45" fill="#0e559a"/><circle cx="418.1" cy="634.1" r="2.45" fill="#0e559a"/><circle cx="413.5" cy="652.4" r="2.45" fill="#0e559a"/><circle cx="418.1" cy="651.1" r="2.45" fill="#0e559a"/><circle cx="422.6" cy="651.1" r="2.45" fill="#0e559a"/><line x1="387.2" y1="566.75" x2="387.2" y2="665.3" stroke="#000" stroke-width="1.3"/><line x1="382.7" y1="665.3" x2="430.2" y2="665.3" stroke="#000" stroke-width="1.3"/><line x1="382.7" y1="665.30" x2="387.2" y2="665.30" stroke="#000" stroke-width="1.1"/><text x="380.9" y="668.30" font-size="8.4" text-anchor="end" letter-spacing="0.5">0</text><line x1="382.7" y1="632.45" x2="387.2" y2="632.45" stroke="#000" stroke-width="1.1"/><text x="380.9" y="635.45" font-size="8.4" text-anchor="end" letter-spacing="0.5">2000</text><line x1="382.7" y1="599.60" x2="387.2" y2="599.60" stroke="#000" stroke-width="1.1"/><text x="380.9" y="602.60" font-size="8.4" text-anchor="end" letter-spacing="0.5">4000</text><line x1="382.7" y1="566.75" x2="387.2" y2="566.75" stroke="#000" stroke-width="1.1"/><text x="380.9" y="569.75" font-size="8.4" text-anchor="end" letter-spacing="0.5">6000</text><line x1="399.4" y1="665.3" x2="399.4" y2="669.3" stroke="#000" stroke-width="1.1"/><g transform="translate(399.4,679.50) scale(0.94,1)"><text x="0" y="0" font-size="10.1" text-anchor="middle">IC</text></g><line x1="418.1" y1="665.3" x2="418.1" y2="669.3" stroke="#000" stroke-width="1.1"/><g transform="translate(419.0,679.50) scale(0.94,1)"><text x="0" y="0" font-size="10.1" text-anchor="middle">NIC</text></g><line x1="400.4" y1="573.5" x2="417.6" y2="573.5" stroke="#000" stroke-width="1.3" stroke-linecap="round"/><circle cx="409.8" cy="568" r="1.05" fill="#000"/><g transform="translate(353.2,617) rotate(-90) scale(0.675,1)"><text x="0" y="3.4" font-size="10.2" text-anchor="middle" word-spacing="1.6" style="stroke-width:0.4px">VCAM-1 gMFI</text></g><g transform="translate(409.3,688.6) scale(0.70,1)"><text x="0" y="3.6" font-size="10.2" text-anchor="middle" style="stroke-width:0.4px">TAMs</text></g></svg>
</body></html>
